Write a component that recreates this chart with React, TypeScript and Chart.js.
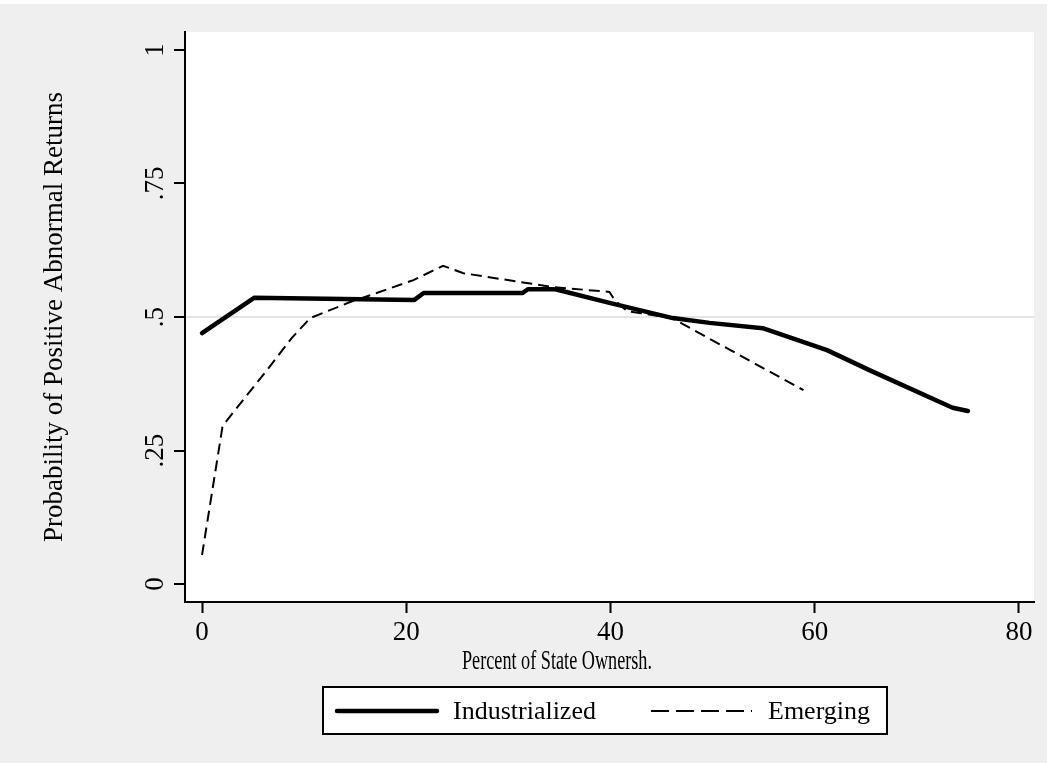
import { useEffect, useRef } from "react";
import { Chart, registerables } from "chart.js";

Chart.register(...registerables);

const industrializedX = [0, 5.1, 20.8, 21.7, 31.4, 31.9, 34.6, 40.0, 46.1, 49.7, 54.9, 61.2, 65.4, 73.5, 75.0];
const industrializedY = [0.47, 0.536, 0.532, 0.545, 0.545, 0.552, 0.552, 0.526, 0.498, 0.489, 0.479, 0.438, 0.4, 0.33, 0.324];

const emergingX = [0, 2.0, 2.3, 6.5, 8.8, 10.6, 14.5, 16.5, 20.7, 23.6, 25.6, 34.4, 39.9, 40.4, 41.6, 43.0, 46.0, 58.9];
const emergingY = [0.054, 0.294, 0.303, 0.404, 0.461, 0.498, 0.528, 0.541, 0.569, 0.596, 0.582, 0.556, 0.547, 0.532, 0.511, 0.507, 0.498, 0.363];

const seriesNames = ["Industrialized", "Emerging"];
const xTickValues = [0, 20, 40, 60, 80];
const yTickValues = [0, 0.25, 0.5, 0.75, 1];
const yTickLabels = ["0", ".25", ".5", ".75", "1"];
const xTitle = "Percent of State Ownersh.";
const yTitle = "Probability of Positive Abnormal Returns";

const FONT = "'Liberation Serif', 'Times New Roman', serif";

export default function App() {
  const ref = useRef<HTMLCanvasElement>(null);

  useEffect(() => {
    document.body.style.margin = "0";
    const canvas = ref.current;
    if (!canvas) return;

    const decor = {
      id: "decor",
      beforeDraw(chart: any) {
        const { ctx, chartArea: a, width, height } = chart;
        ctx.save();
        ctx.fillStyle = "#ffffff";
        ctx.fillRect(0, 0, width, height);
        ctx.fillStyle = "#efefef";
        ctx.fillRect(0, 4, width, height - 8);
        ctx.fillStyle = "#ffffff";
        ctx.fillRect(a.left, a.top, a.right - a.left, a.bottom - a.top);
        ctx.restore();
      },
      afterDraw(chart: any) {
        const { ctx, chartArea: a } = chart;
        const ys = chart.scales.y;
        ctx.save();
        ctx.fillStyle = "#000";
        ctx.textAlign = "center";
        ctx.textBaseline = "alphabetic";
        ctx.font = `27px ${FONT}`;
        yTickValues.forEach((v, i) => {
          const py = ys.getPixelForValue(v);
          ctx.save();
          ctx.translate(163, py);
          ctx.rotate(-Math.PI / 2);
          ctx.fillText(yTickLabels[i], 0, 0);
          ctx.restore();
        });
        // y title
        ctx.save();
        ctx.translate(62, (a.top + a.bottom) / 2);
        ctx.rotate(-Math.PI / 2);
        ctx.fillText(yTitle, 0, 0);
        ctx.restore();
        // x title (condensed)
        ctx.font = `28px ${FONT}`;
        ctx.save();
        ctx.translate(557, 669);
        ctx.scale(0.65, 1);
        ctx.fillText(xTitle, 0, 0);
        ctx.restore();

        // legend box
        ctx.fillStyle = "#ffffff";
        ctx.fillRect(323, 687, 564, 47);
        ctx.strokeStyle = "#000";
        ctx.lineWidth = 2;
        ctx.strokeRect(323, 687, 564, 47);
        const ly = 711;
        ctx.beginPath();
        ctx.lineWidth = 4.5;
        ctx.lineCap = "round";
        ctx.moveTo(337, ly);
        ctx.lineTo(437, ly);
        ctx.stroke();
        ctx.beginPath();
        ctx.lineWidth = 2;
        ctx.lineCap = "butt";
        ctx.setLineDash([18, 7]);
        ctx.moveTo(651, ly);
        ctx.lineTo(752, ly);
        ctx.stroke();
        ctx.setLineDash([]);
        ctx.fillStyle = "#000";
        ctx.font = `26px ${FONT}`;
        ctx.textAlign = "left";
        ctx.textBaseline = "middle";
        ctx.fillText(seriesNames[0], 453, ly + 1);
        ctx.fillText(seriesNames[1], 768, ly + 1);
        ctx.restore();
      },
    };

    const chart = new Chart(canvas, {
      type: "line",
      data: {
        datasets: [
          {
            label: seriesNames[0],
            data: industrializedX.map((x, i) => ({ x, y: industrializedY[i] })),
            borderColor: "#000",
            borderWidth: 4.5,
            pointRadius: 0,
            tension: 0,
            fill: false,
            borderCapStyle: "round",
            borderJoinStyle: "round",
          },
          {
            label: seriesNames[1],
            data: emergingX.map((x, i) => ({ x, y: emergingY[i] })),
            borderColor: "#000",
            borderWidth: 2,
            borderDash: [11, 6],
            pointRadius: 0,
            tension: 0,
            fill: false,
            borderCapStyle: "butt",
          },
        ],
      },
      options: {
        responsive: false,
        animation: false,
        devicePixelRatio: 1,
        layout: { padding: { left: 0, top: 32, right: 13, bottom: 0 } },
        plugins: { legend: { display: false }, tooltip: { enabled: false } },
        scales: {
          x: {
            type: "linear",
            min: -1.665,
            max: 81.47,
            afterBuildTicks: (s: any) => {
              s.ticks = xTickValues.map((v) => ({ value: v }));
            },
            afterFit: (s: any) => {
              s.height = 165;
            },
            grid: {
              drawOnChartArea: false,
              color: "rgba(0,0,0,0)",
              tickColor: "#000",
              tickLength: 11,
              tickWidth: 2,
            },
            border: { display: true, color: "#000", width: 2 },
            ticks: {
              color: "#000",
              font: { family: FONT, size: 27 },
              padding: 4,
              maxRotation: 0,
              autoSkip: false,
              callback: (v: any) => String(v),
            },
          },
          y: {
            type: "linear",
            min: -0.0337,
            max: 1.0337,
            afterBuildTicks: (s: any) => {
              s.ticks = yTickValues.map((v) => ({ value: v }));
            },
            afterFit: (s: any) => {
              s.width = 185;
            },
            grid: {
              color: (c: any) => (c.tick && c.tick.value === 0.5 ? "#e4e4e4" : "rgba(0,0,0,0)"),
              lineWidth: 2,
              tickColor: "#000",
              tickLength: 11,
              tickWidth: 2,
            },
            border: { display: true, color: "#000", width: 2 },
            ticks: { display: false },
          },
        },
      },
      plugins: [decor],
    } as any);

    return () => chart.destroy();
  }, []);

  return <canvas ref={ref} width={1047} height={767} style={{ display: "block", width: 1047, height: 767 }} />;
}
